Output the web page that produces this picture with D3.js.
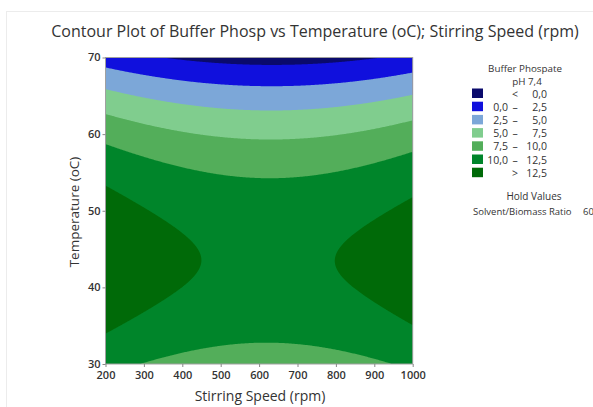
<!DOCTYPE html>
<html>
<head>
<meta charset="utf-8">
<script src="https://cdn.jsdelivr.net/npm/d3@7"></script>
<style>
  body { margin: 0; background: #fff; overflow: hidden; }
  text { font-family: "Open Sans", "Noto Sans", sans-serif; fill: #333; }
</style>
</head>
<body>
<svg id="chart" width="593" height="407"></svg>
<script>
// Fitted response surface for Buffer Phosp (pH 7,4), coded units:
// u = (speed - 600) / 400, v = (temperature - 50) / 20
const modelTerms = ["const", "u", "v", "u*u", "v*v", "u*v"];
const modelCoef  = [11.3708, -0.2424, -4.8359, 1.8691, -7.4638, -0.0728];

const speedRange = [200, 1000];
const tempRange = [30, 70];
const levels = [0, 2.5, 5, 7.5, 10, 12.5];
const bandColors = ["#0a0a6c", "#1010dd", "#7ca7d8", "#80cd8e", "#53ae5a", "#00852a", "#006a08"];
const bandLabels = [["", "<", "0,0"], ["0,0", "–", "2,5"], ["2,5", "–", "5,0"], ["5,0", "–", "7,5"],
                    ["7,5", "–", "10,0"], ["10,0", "–", "12,5"], ["", ">", "12,5"]];
const speedTicks = [200, 300, 400, 500, 600, 700, 800, 900, 1000];
const tempTicks = [30, 40, 50, 60, 70];
const holdName = "Solvent/Biomass Ratio";
const holdValue = "60";

function response(speed, temp) {
  const u = (speed - 600) / 400, v = (temp - 50) / 20;
  const terms = [1, u, v, u * u, v * v, u * v];
  return terms.reduce((a, t, k) => a + t * modelCoef[k], 0);
}

const svg = d3.select("#chart");

// light outer frame
svg.append("rect").attr("x", 6.5).attr("y", 11.5).attr("width", 620).attr("height", 420)
  .attr("fill", "none").attr("stroke", "#ececec");

const pl = 105.5, pr = 412.7, pt = 57.5, pb = 364;
const x = d3.scaleLinear().domain(speedRange).range([pl, pr]);
const y = d3.scaleLinear().domain(tempRange).range([pb, pt]);

// sample the surface on a pixel grid and trace filled contours
const nx = Math.round(pr - pl), ny = Math.round(pb - pt);
const grid = new Array(nx * ny);
for (let j = 0; j < ny; j++) for (let i = 0; i < nx; i++) {
  const s = x.invert(pl + (i + 0.5) * (pr - pl) / nx);
  const t = y.invert(pt + (j + 0.5) * (pb - pt) / ny);
  grid[j * nx + i] = response(s, t);
}
const contours = d3.contours().size([nx, ny]).thresholds(levels)(grid);
const proj = d3.geoTransform({ point: function(px, py) {
  this.stream.point(pl + px * (pr - pl) / nx, pt + py * (pb - pt) / ny);
}});
const path = d3.geoPath(proj);

svg.append("rect").attr("x", pl).attr("y", pt).attr("width", pr - pl).attr("height", pb - pt)
  .attr("fill", bandColors[0]);
svg.append("g").selectAll("path").data(contours).join("path")
  .attr("d", path).attr("fill", (d, i) => bandColors[i + 1]);

// plot border
svg.append("rect").attr("x", pl).attr("y", pt).attr("width", pr - pl).attr("height", pb - pt)
  .attr("fill", "none").attr("stroke", "#a0a0a0").attr("stroke-width", 1);

// axes
const xAxis = svg.append("g").attr("transform", `translate(0,${pb})`)
  .call(d3.axisBottom(x).tickValues(speedTicks).tickSize(3).tickPadding(4).tickFormat(d3.format("d")));
const yAxis = svg.append("g").attr("transform", `translate(${pl},0)`)
  .call(d3.axisLeft(y).tickValues(tempTicks).tickSize(3).tickPadding(2).tickFormat(d3.format("d")));
[xAxis, yAxis].forEach(g => {
  g.select(".domain").remove();
  g.selectAll(".tick line").attr("stroke", "#888");
  g.selectAll(".tick text").attr("fill", "#333")
    .style("font-family", "'Open Sans', sans-serif").style("font-size", "11px").style("font-weight", "600");
});
yAxis.selectAll(".tick text").attr("dy", "0.3em");

// titles
svg.append("text").attr("x", 315).attr("y", 37).attr("text-anchor", "middle")
  .style("font-size", "16px").text("Contour Plot of Buffer Phosp vs Temperature (oC); Stirring Speed (rpm)");
svg.append("text").attr("x", 260).attr("y", 401).attr("text-anchor", "middle")
  .style("font-size", "14px").text("Stirring Speed (rpm)");
svg.append("text").attr("transform", "translate(79,212) rotate(-90)").attr("text-anchor", "middle")
  .style("font-size", "13.5px").text("Temperature (oC)");

// legend
const lg = svg.append("g");
lg.append("text").attr("x", 525).attr("y", 71.5).attr("text-anchor", "middle")
  .style("font-size", "9.8px").text("Buffer Phospate");
lg.append("text").attr("x", 527).attr("y", 84.5).attr("text-anchor", "middle")
  .style("font-size", "9.8px").text("pH 7,4");
const rows = lg.selectAll("g.row").data(bandColors).join("g").attr("class", "row")
  .attr("transform", (d, i) => `translate(0,${88.5 + i * 13.2})`);
rows.append("rect").attr("x", 472).attr("y", 0).attr("width", 11).attr("height", 9.5)
  .attr("fill", d => d);
rows.append("text").attr("x", 508).attr("y", 9).attr("text-anchor", "end")
  .style("font-size", "10.5px").text((d, i) => bandLabels[i][0]);
rows.append("text").attr("x", 515).attr("y", 9).attr("text-anchor", "middle")
  .style("font-size", "10.5px").text((d, i) => bandLabels[i][1]);
rows.append("text").attr("x", 547).attr("y", 9).attr("text-anchor", "end")
  .style("font-size", "10.5px").text((d, i) => bandLabels[i][2]);

lg.append("text").attr("x", 534).attr("y", 200).attr("text-anchor", "middle")
  .style("font-size", "10px").text("Hold Values");
lg.append("text").attr("x", 473).attr("y", 214.5)
  .style("font-size", "9.5px").text(holdName);
lg.append("text").attr("x", 583).attr("y", 214.5)
  .style("font-size", "9.5px").text(holdValue);
</script>
</body>
</html>
